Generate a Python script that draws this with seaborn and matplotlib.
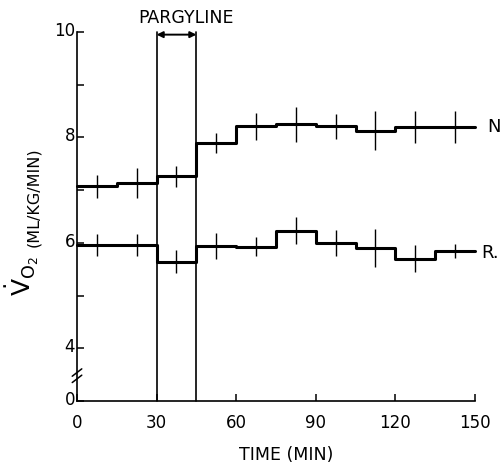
import numpy as np
import pandas as pd
import matplotlib
matplotlib.use("Agg")
import matplotlib.pyplot as plt
import matplotlib.transforms as mtransforms
import seaborn as sns

# ---- data ----
edges = [0, 15, 30, 45, 60, 75, 90, 105, 120, 135, 150]
n_vals = [7.07, 7.14, 7.26, 7.90, 8.21, 8.25, 8.21, 8.13, 8.20, 8.20]
n_err = [0.22, 0.28, 0.20, 0.19, 0.25, 0.33, 0.24, 0.37, 0.30, 0.30]
r_vals = [5.96, 5.96, 5.64, 5.94, 5.93, 6.23, 6.00, 5.90, 5.70, 5.85]
r_err = [0.21, 0.21, 0.22, 0.24, 0.18, 0.26, 0.24, 0.36, 0.25, 0.13]
x_ticks = [0, 30, 60, 90, 120, 150]
y_ticks = [3, 4, 5, 6, 7, 8, 9, 10]
y_tick_labels = ["0", "4", "", "6", "", "8", "", "10"]
pargyline = (30, 45)

sns.set_theme(style="ticks")
plt.rcParams["font.family"] = ["DejaVu Sans"]
plt.rcParams["text.color"] = "black"
plt.rcParams["xtick.color"] = "black"
plt.rcParams["ytick.color"] = "black"

fig = plt.figure(figsize=(5.02, 4.64), dpi=100)
ax = fig.add_axes([77 / 502, 62 / 464, 398 / 502, 369 / 464])

mids = [(a + b) / 2 for a, b in zip(edges[:-1], edges[1:])]
for vals, err in [(n_vals, n_err), (r_vals, r_err)]:
    df = pd.DataFrame({"t": edges, "v": list(vals) + [vals[-1]]})
    sns.lineplot(data=df, x="t", y="v", ax=ax, color="black", lw=2.2,
                 drawstyle="steps-post", sort=False, estimator=None,
                 clip_on=False)
    ax.errorbar(mids, vals, yerr=err, fmt="none", ecolor="black",
                elinewidth=1.0, capsize=0, clip_on=False)

# pargyline box
for xv in pargyline:
    ax.plot([xv, xv], [3, 10], color="black", lw=1.2, clip_on=False)
ax.annotate("", xy=(pargyline[0], 9.95), xytext=(pargyline[1], 9.95),
            arrowprops=dict(arrowstyle="<|-|>", color="black", lw=1.4,
                            shrinkA=0, shrinkB=0, mutation_scale=9),
            annotation_clip=False)
ax.text(41, 10.28, "PARGYLINE", ha="center", va="center", fontsize=12.5,
        color="black")

# series labels
ax.text(157, 8.21, "N", ha="center", va="center", fontsize=13,
        clip_on=False, color="black")
ax.text(155.8, 5.83, "R.", ha="center", va="center", fontsize=13,
        clip_on=False, color="black")

ax.set_xlim(0, 150)
ax.set_ylim(3, 10)
ax.set_xticks(x_ticks)
ax.set_xticklabels([str(v) for v in x_ticks])
ax.set_yticks(y_ticks)
ax.set_yticklabels(y_tick_labels)
ax.tick_params(axis="both", direction="in", length=5, width=1.1,
               colors="black", labelcolor="black", labelsize=12)
ax.tick_params(axis="x", pad=9)
ax.tick_params(axis="y", pad=1.5)
ax.tick_params(axis="y", which="both", left=True, right=False)
ax.tick_params(axis="x", which="both", bottom=True, top=False)
offset = mtransforms.ScaledTranslation(0, 4 / 100, fig.dpi_scale_trans)
for lab in ax.get_yticklabels():
    lab.set_transform(lab.get_transform() + offset)

sns.despine(ax=ax)
for s in ["left", "bottom"]:
    ax.spines[s].set_linewidth(1.2)
    ax.spines[s].set_color("black")
ax.set_xlabel("")
ax.set_ylabel("")
ax.grid(False)

# axis break marks
bt = mtransforms.blended_transform_factory(ax.transAxes, ax.transData)
for yb in (3.42, 3.54):
    ax.plot([-0.012, 0.012], [yb - 0.07, yb + 0.07], color="black", lw=1.1,
            transform=bt, clip_on=False)

# axis labels
fig.text(286 / 502, 1 - 455 / 464, "TIME (MIN)", ha="center", va="center",
         fontsize=12.5, color="black")
fig.text(22 / 502, 1 - 276 / 464, r"$\dot{\mathrm{V}}_{\mathrm{O_2}}$",
         rotation=90, ha="center", va="center", fontsize=18, color="black")
fig.text(34 / 502, 1 - 197 / 464, "(ML/KG/MIN)", rotation=90,
         ha="center", va="center", fontsize=11.5, color="black")

fig.savefig("out.png", dpi=100)
